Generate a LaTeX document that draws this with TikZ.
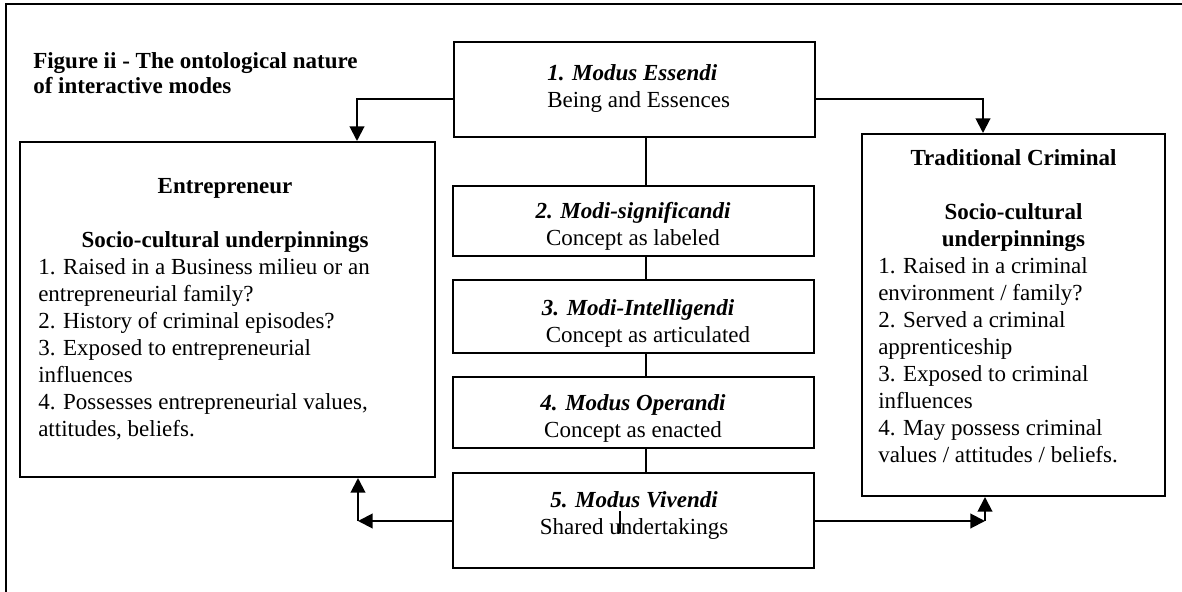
\documentclass[tikz,border=0pt]{standalone}
\usepackage{fontspec}
\setmainfont{Liberation Serif}
\usetikzlibrary{arrows.meta}
\newcommand{\fs}{\fontsize{17.25pt}{20.25pt}\selectfont}
\newcommand{\fst}{\fontsize{17.25pt}{18.75pt}\selectfont}
\begin{document}
\begin{tikzpicture}[x=0.75pt,y=-0.75pt,
  bx/.style 2 args={draw,line width=1.5pt,inner sep=0pt,rectangle,
     minimum width=#1*0.75pt,minimum height=#2*0.75pt},
  tx/.style={inner sep=0pt,anchor=north,align=center,font=\fs},
  txl/.style={inner sep=0pt,anchor=north west,align=left,font=\fs},
  conn/.style={line width=1.5pt},
  arr/.style={line width=1.5pt,-{Triangle[length=11pt,width=11pt]}}]
\useasboundingbox (0,0) rectangle (1182,592);
\begin{scope}
\clip (0,0) rectangle (1182,592);
\draw[line width=1.9pt] (6,620) -- (6,4) -- (1200,4);
\end{scope}

% title
\node[inner sep=0pt,anchor=north west,align=left,font=\fst] (title) at (33,50.5)
  {\strut\textbf{Figure ii - The ontological nature}\\\textbf{of interactive modes}};

% central boxes
\node[bx={361}{95}] (b1) at (634.5,89.5) {};
\node[bx={361}{70}] (b2) at (633.5,221) {};
\node[bx={361}{73}] (b3) at (633.5,316.5) {};
\node[bx={361}{71}] (b4) at (633.5,412.5) {};
\node[bx={361}{95}] (b5) at (633.5,520.5) {};

\node[txl] (t1) at (547,61.1) {\strut\textbf{\textit{1. Modus Essendi}}\\Being and Essences};
\node[tx] (t2) at (633,199.1) {\strut\textbf{\textit{2. Modi-significandi}}\\Concept as labeled};
\node[tx] (t3) at (638,296.1) {\strut\textbf{\textit{3. Modi-Intelligendi}}\\\hspace*{15pt}Concept as articulated};
\node[tx] (t4) at (633,391.1) {\strut\textbf{\textit{4. Modus Operandi}}\\Concept as enacted};
\node[tx] (t5) at (634,488.1) {\strut\textbf{\textit{5. Modus Vivendi}}\\Shared undertakings};
\coordinate (s1) at (620,511);
\coordinate (s2) at (620,533);
\draw[line width=1pt] (s1) -- (s2);

% left box
\node[bx={415}{335}] (ent) at (227.5,309.5) {};
\node[tx] (enth) at (225,174.1) {\strut\textbf{Entrepreneur}\\[20.25pt]\textbf{Socio-cultural underpinnings}};
\node[txl] (entb) at (38,255.1) {\strut 1. Raised in a Business milieu or an\\entrepreneurial family?\\2. History of criminal episodes?\\3. Exposed to entrepreneurial\\influences\\4. Possesses entrepreneurial values,\\attitudes, beliefs.};

% right box
\node[bx={303}{362}] (crim) at (1013.5,315) {};
\node[tx] (crimh) at (1013.5,146.1) {\strut\textbf{Traditional Criminal}\\[20.25pt]\textbf{Socio-cultural}\\\textbf{underpinnings}};
\node[txl] (crimb) at (878,254.1) {\strut 1. Raised in a criminal\\environment / family?\\2. Served a criminal\\apprenticeship\\3. Exposed to criminal\\influences\\4. May possess criminal\\values / attitudes / beliefs.};

% connectors
\coordinate (cx) at (646,0);
\draw[conn] (b1.south -| cx) -- (b2.north -| cx);
\draw[conn] (b2.south -| cx) -- (b3.north -| cx);
\draw[conn] (b3.south -| cx) -- (b4.north -| cx);
\draw[conn] (b4.south -| cx) -- (b5.north -| cx);

\coordinate (tl) at (357,99);
\coordinate (tr) at (983,99);
\draw[arr] (b1.west |- tl) -- (tl) -- (ent.north -| tl);
\draw[arr] (b1.east |- tr) -- (tr) -- (crim.north -| tr);

\coordinate (bl) at (358,521);
\coordinate (br) at (985,521);
\draw[arr] (b5.west |- bl) -- (bl);
\draw[arr] (bl) -- (ent.south -| bl);
\draw[arr] (b5.east |- br) -- (br);
\draw[arr] (br) -- (crim.south -| br);
\end{tikzpicture}
\end{document}
